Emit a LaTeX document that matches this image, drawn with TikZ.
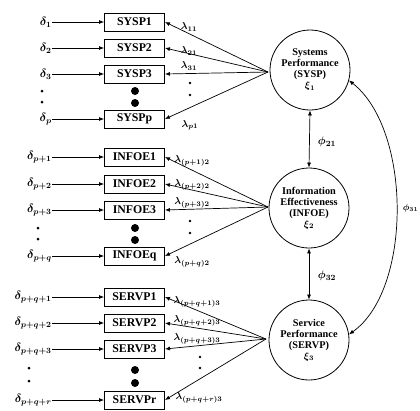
\documentclass[tikz,border=0pt]{standalone}
\usepackage{fontspec}
\setmainfont{Liberation Serif}
\usetikzlibrary{arrows.meta}
\begin{document}
\begin{tikzpicture}[x=1pt,y=-1pt,
  >={Latex[length=5pt,width=4pt]}, line width=0.7pt,
  obs/.style={draw, line width=0.9pt, minimum width=60pt, minimum height=18pt, inner sep=0pt, font=\bfseries\fontsize{11.8}{12}\selectfont},
  lat/.style={draw, circle, line width=0.8pt, minimum size=80pt, inner sep=0pt, align=center, font=\bfseries\boldmath\fontsize{10.3}{11}\selectfont},
  err/.style={anchor=east, inner sep=0pt, font=\bfseries\boldmath\fontsize{12}{13}\selectfont},
  lam/.style={inner sep=0pt, font=\bfseries\boldmath\fontsize{10}{11}\selectfont},
  phil/.style={inner sep=0pt, font=\bfseries\boldmath\fontsize{11}{12}\selectfont},
  bigdot/.style={fill=black, draw=none},
  smalldot/.style={fill=black, draw=none}]
\useasboundingbox (0,0) rectangle (420,410);

% latent variables
\node[lat] (sysp) at (310,70) {Systems\\Performance\\(SYSP)\\$\xi_1$};
\node[lat] (infoe) at (309,208) {Information\\Effectiveness\\(INFOE)\\$\xi_2$};
\node[lat] (servp) at (309,340) {Service\\Performance\\(SERVP)\\$\xi_3$};

\coordinate (c1) at (268,72);
\coordinate (c2) at (268,207);
\coordinate (c3) at (266,339);

% SYSP group
\node[obs] (s1) at (134.5,22) {SYSP1};
\node[obs] (s2) at (134.5,48) {SYSP2};
\node[obs] (s3) at (134.5,74) {SYSP3};
\node[obs] (sp) at (134.5,119) {SYSPp};
\node[err] (ds1) at (52,22) {$\delta_1$};
\node[err] (ds2) at (52,48) {$\delta_2$};
\node[err] (ds3) at (52,74) {$\delta_3$};
\node[err] (dsp) at (52,119) {$\delta_p$};
\foreach \a/\b in {ds1/s1,ds2/s2,ds3/s3,dsp/sp} \draw[->] (\a.east) -- (\b.west);
\foreach \b in {s1,s2,s3,sp} \draw[->] (c1) -- (\b.east);
\fill[bigdot] (135,91) circle (4);
\fill[bigdot] (135,103) circle (4);
\fill[smalldot] (42,91) circle (1.5);
\fill[smalldot] (42,102) circle (1.5);
\node[lam] (ls1) at (189,27) {$\lambda_{11}$};
\node[lam] (ls2) at (189,51) {$\lambda_{21}$};
\node[lam] (ls3) at (189,66) {$\lambda_{31}$};
\node[lam] (lsp) at (190,125) {$\lambda_{p1}$};
\fill[smalldot] (190,83) circle (1.3);
\fill[smalldot] (190,95) circle (1.3);

% INFOE group
\node[obs] (i1) at (134.5,157) {INFOE1};
\node[obs] (i2) at (134.5,184) {INFOE2};
\node[obs] (i3) at (134.5,210) {INFOE3};
\node[obs] (iq) at (134.5,256) {INFOEq};
\node[err] (di1) at (52,157) {$\delta_{p+1}$};
\node[err] (di2) at (52,184) {$\delta_{p+2}$};
\node[err] (di3) at (52,210) {$\delta_{p+3}$};
\node[err] (diq) at (52,256) {$\delta_{p+q}$};
\foreach \a/\b in {di1/i1,di2/i2,di3/i3,diq/iq} \draw[->] (\a.east) -- (\b.west);
\foreach \b in {i1,i2,i3,iq} \draw[->] (c2) -- (\b.east);
\fill[bigdot] (135,228) circle (4);
\fill[bigdot] (135,240) circle (4);
\fill[smalldot] (38,228) circle (1.5);
\fill[smalldot] (38,239) circle (1.5);
\node[lam] (li1) at (192,161) {$\lambda_{(p+1)2}$};
\node[lam] (li2) at (192,185) {$\lambda_{(p+2)2}$};
\node[lam] (li3) at (192,203) {$\lambda_{(p+3)2}$};
\node[lam] (liq) at (192,262) {$\lambda_{(p+q)2}$};
\fill[smalldot] (190,221) circle (1.3);
\fill[smalldot] (190,233) circle (1.3);

% SERVP group
\node[obs] (v1) at (134.5,297) {SERVP1};
\node[obs] (v2) at (134.5,323) {SERVP2};
\node[obs] (v3) at (134.5,349) {SERVP3};
\node[obs] (vr) at (134.5,400) {SERVPr};
\node[err] (dv1) at (52,297) {$\delta_{p+q+1}$};
\node[err] (dv2) at (52,323) {$\delta_{p+q+2}$};
\node[err] (dv3) at (52,349) {$\delta_{p+q+3}$};
\node[err] (dvr) at (52,400) {$\delta_{p+q+r}$};
\foreach \a/\b in {dv1/v1,dv2/v2,dv3/v3,dvr/vr} \draw[->] (\a.east) -- (\b.west);
\foreach \b in {v1,v2,v3,vr} \draw[->] (c3) -- (\b.east);
\fill[bigdot] (135,370) circle (4);
\fill[bigdot] (135,383) circle (4);
\fill[smalldot] (29,368) circle (1.5);
\fill[smalldot] (29,381) circle (1.5);
\node[lam] (lv1) at (197,302) {$\lambda_{(p+q+1)3}$};
\node[lam] (lv2) at (197,321) {$\lambda_{(p+q+2)3}$};
\node[lam] (lv3) at (197,339) {$\lambda_{(p+q+3)3}$};
\node[lam] (lvr) at (199,398) {$\lambda_{(p+q+r)3}$};
\fill[smalldot] (200,357) circle (1.3);
\fill[smalldot] (200,368) circle (1.3);

% correlations
\draw[<->] (sysp.south) -- (infoe.north);
\draw[<->] (infoe.south) -- (servp.north);
\node[phil] (p21) at (327,142) {$\phi_{21}$};
\node[phil] (p32) at (327,276) {$\phi_{32}$};
\draw[<->] (sysp.-15) .. controls (412,130) and (412,290) .. (servp.8);
\node[phil, anchor=west, font=\bfseries\boldmath\fontsize{9}{10}\selectfont] (p31) at (402.5,208) {$\phi_{31}$};
\end{tikzpicture}
\end{document}
